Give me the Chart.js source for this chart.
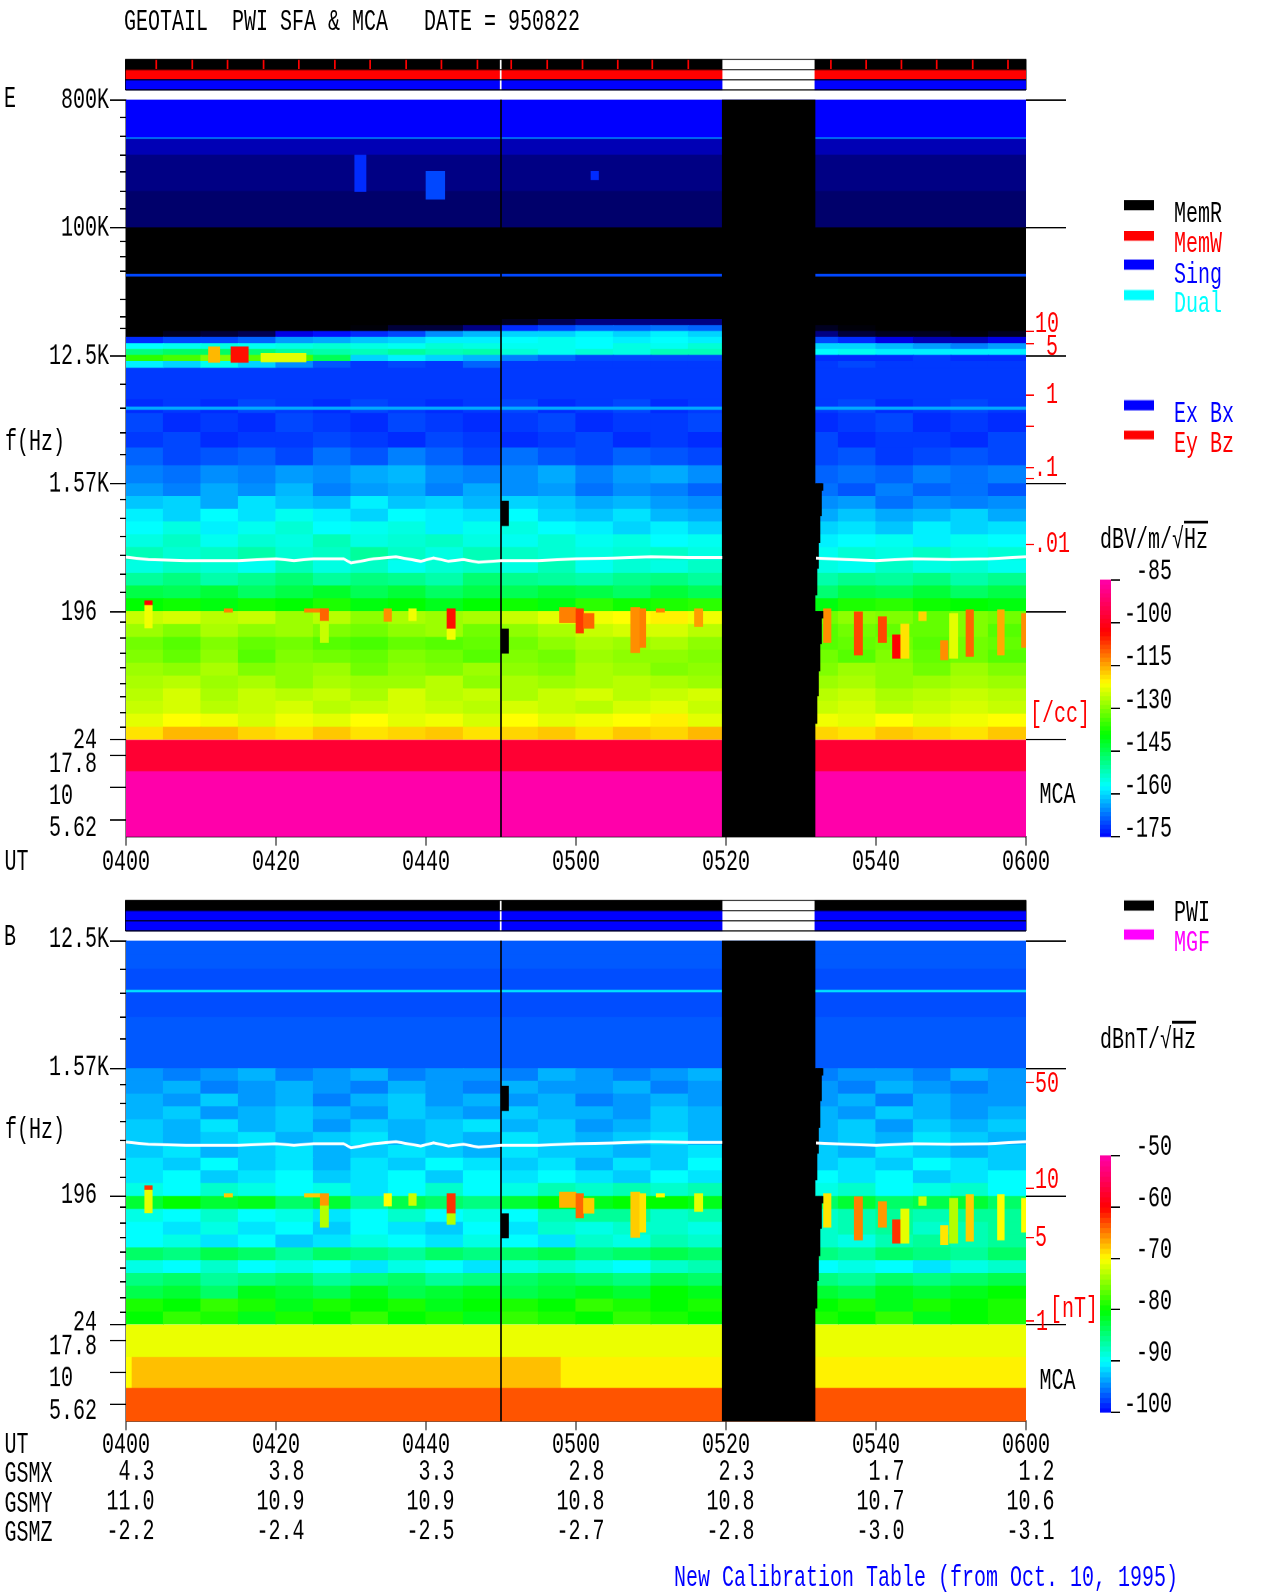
<!DOCTYPE html>
<html><head><meta charset="utf-8">
<script src="https://cdn.jsdelivr.net/npm/chart.js@4"></script>
<style>
html,body{margin:0;padding:0;background:#fff;overflow:hidden;width:1280px;height:1593px}
#stage{position:absolute;left:0;top:0;width:1280px;transform-origin:0 0;font:20px "Liberation Mono",monospace;color:#000}
#stage canvas{position:absolute;left:0}
.t{position:absolute;white-space:pre;line-height:1;transform:translateY(-50%)}
.s{position:absolute;width:30px}
.o{text-decoration:overline}
</style></head><body><div id="stage"></div>
<script>
// ---------- values (estimates, mean level of each cell) ----------
const N = null;
const utLabels = ["0400","0420","0440","0500","0520","0540","0600"];
const utMinutes = [0,20,40,60,80,100,120];
const gsmx = ["4.3","3.8","3.3","2.8","2.3","1.7","1.2"];
const gsmy = ["11.0","10.9","10.9","10.8","10.8","10.7","10.6"];
const gsmz = ["-2.2","-2.4","-2.5","-2.7","-2.8","-3.0","-3.1"];

const majorHzE = [803000,100400,12544,1568,196,24.5];
const majorLabelsE = ["800K","100K","12.5K","1.57K","196 ","24 "];
const majorHzB = [12544,1568,196,24.5];
const majorLabelsB = ["12.5K","1.57K","196 ","24 "];
const mcaHz = [17.8,10,5.62];
const mcaLabels = ["17.8 ","10   ","5.62 "];
const minorHzE = [600000,442000,326000,250000,181000,137000,80400,63000,49300,31300,23700,19500,7870,5330,3600,2530,1215,892,666,490,360,268,165,128,100,79,61,49,38,30];
const minorHzB = [7870,5330,3600,2530,1215,892,666,490,360,268,165,128,100,79,61,49,38,30];
const densityHz = [18600,15300,6600,3970,2040,1710,585];
const fieldHz = [1254,225,101,26];

const colTimes = [2.5,7.5,12.5,17.5,22.5,27.5,32.5,37.5,42.5,47.5,52.5,57.5,62.5,67.5,72.5,77.5,82.5,87.5,92.5,97.5,102.5,107.5,112.5,117.5];

// full-width rows, panel E
const eFullHz = [803000,600000,432000,423000,326000,181000,100400,47000,45000,10400,1568,23.7,13.3,4.14];
const eFullDb = [-175,-175,-163,-178,-180,-181,-190,-170,-190,-171,N,-97.6,-85];

// emission near 12.5 kHz, panel E
const eLineHz = [22600,20500,18600,16900,15300,13900,12600,11400,10400];
const eLineDb = [
[-190,-190,-190,-190,-190,-190,-190,-190,-190,-188,-184,-182,-180,-180,-180,-180,N,N,-186,-187,-188,-188,-188,-188],
[-190,-190,-190,-190,-190,-186,-185,-183,-183,-180,-172,-170,-168,-168,-167,-168,N,N,-184,-185,-186,-186,-186,-186],
[-186,-184,-183,-182,-176,-174,-172,-170,-165,-162,-160,-160,-158,-160,-158,-160,N,N,-180,-183,-184,-184,-185,-184],
[-172,-170,-170,-168,-164,-163,-161,-160,-158,-158,-157,-156,-157,-158,-157,-158,N,N,-170,-172,-176,-178,-178,-176],
[-157,-156,-155,-156,-155,-154,-155,-156,-154,-155,-156,-156,-157,-155,-156,-154,N,N,-160,-160,-162,-164,-166,-164],
[-148,-146,-146,-147,-150,-151,-152,-150,-152,-151,-154,-156,-154,-155,-152,-152,N,N,-157,-156,-158,-158,-158,-158],
[-136,-134,-130,-133,-134,-145,-160,-158,-160,-162,-166,-168,-170,-170,-170,-170,N,N,-172,-172,-172,-171,-172,-172],
[-158,-160,-156,-160,-165,-169,-171,-170,-171,-168,-171,-171,-171,-171,-171,-171,N,N,-171,-170,-171,-171,-171,-171]
];

// blue noise band above 1.57 kHz, panel E
const eMidHz = [6150,4900,3600,2800,2100,1568];
const eMidDb = [
[-172,-171,-172,-170,-171,-172,-170,-171,-172,-171,-170,-172,-171,-170,-172,-171,N,N,-171,-170,-172,-171,-170,-171],
[-170,-172,-171,-172,-170,-171,-172,-170,-171,-172,-171,-170,-172,-171,-171,-170,N,N,-172,-171,-170,-172,-171,-172],
[-171,-170,-172,-171,-171,-170,-171,-172,-170,-171,-172,-171,-170,-172,-171,-172,N,N,-170,-172,-171,-171,-172,-170],
[-168,-170,-169,-168,-170,-167,-169,-166,-168,-170,-167,-169,-170,-168,-169,-170,N,N,-170,-169,-171,-170,-169,-170],
[-166,-167,-165,-166,-164,-165,-163,-162,-165,-166,-165,-163,-166,-164,-163,-165,N,N,-168,-167,-168,-166,-167,-166]
];

// SFA rows from 1.57 kHz down to 24.5 Hz (both panels)
const lowHz = [1568,1275,1036,842,684,556,451,366,298,242,196,159,129,105,85,69,56,45.6,37,30,24.5];
const eLowDb = [
[-164,-166,-163,-165,-162,-166,-164,-163,-166,-163,-165,-164,-167,-165,-166,-168,N,N,-167,-169,-166,-168,-167,-169],
[-161,-160,-163,-159,-161,-162,-158,-161,-160,-162,-160,-161,-163,-162,-164,-165,N,N,-165,-164,-167,-165,-166,-165],
[-158,-160,-157,-159,-156,-158,-160,-157,-158,-159,-157,-160,-161,-159,-162,-163,N,N,-163,-161,-163,-162,-160,-163],
[-157,-155,-158,-156,-154,-157,-156,-155,-158,-156,-155,-157,-158,-160,-158,-160,N,N,-160,-159,-161,-158,-160,-159],
[-155,-153,-156,-154,-155,-152,-155,-154,-153,-155,-156,-154,-156,-155,-157,-156,N,N,-158,-157,-156,-158,-156,-157],
[-152,-154,-153,-151,-154,-153,-150,-153,-155,-152,-153,-154,-155,-154,-153,-155,N,N,-156,-154,-155,-153,-155,-154],
[-155,-153,-154,-156,-152,-155,-153,-156,-154,-153,-155,-152,-156,-154,-155,-153,N,N,-155,-156,-153,-155,-154,-156],
[-150,-148,-151,-149,-147,-150,-148,-149,-151,-147,-149,-150,-151,-149,-148,-150,N,N,-151,-149,-150,-148,-151,-149],
[-144,-145,-143,-146,-144,-142,-145,-143,-146,-144,-145,-143,-144,-146,-143,-145,N,N,-147,-144,-145,-143,-146,-144],
[-139,-138,-140,-138,-139,-137,-140,-139,-141,-139,-138,-140,-136,-138,-137,-136,N,N,-140,-137,-136,-138,-139,-140],
[-125,-124,-126,-125,-128,-126,-129,-127,-128,-127,-125,-123,-122,-121,-120,-122,N,N,-131,-129,-130,-132,-130,-131],
[-128,-130,-127,-129,-128,-130,-131,-129,-128,-131,-129,-127,-125,-124,-124,-126,N,N,-133,-131,-132,-132,-130,-133],
[-131,-133,-130,-132,-131,-133,-134,-132,-133,-132,-131,-129,-127,-128,-127,-129,N,N,-133,-132,-131,-133,-131,-132],
[-130,-132,-129,-133,-130,-131,-132,-130,-131,-133,-130,-131,-128,-129,-129,-130,N,N,-131,-133,-130,-132,-131,-133],
[-128,-129,-127,-130,-129,-128,-131,-129,-130,-128,-129,-130,-127,-128,-130,-129,N,N,-130,-128,-129,-131,-128,-130],
[-127,-126,-128,-127,-129,-127,-128,-128,-126,-129,-127,-128,-127,-126,-127,-128,N,N,-128,-127,-129,-128,-127,-128],
[-126,-124,-127,-125,-126,-125,-127,-124,-126,-125,-127,-125,-124,-126,-125,-124,N,N,-126,-125,-127,-126,-125,-126],
[-125,-124,-126,-125,-124,-126,-125,-124,-125,-126,-124,-125,-126,-124,-123,-125,N,N,-125,-124,-126,-125,-124,-125],
[-123,-121,-122,-124,-122,-123,-121,-123,-122,-124,-121,-123,-122,-121,-120,-123,N,N,-122,-123,-121,-123,-122,-121],
[-119,-116,-116,-118,-119,-117,-119,-118,-117,-119,-118,-117,-119,-117,-118,-116,N,N,-118,-119,-117,-118,-119,-117]
];

// panel B
const bFullHz = [12544,10000,7900,5600,5400,3600,1568,23.7,13.3,7.5,4.14];
const bFullDb = [-96.5,-96.5,-97,-91,-97,-96.5,N,-70.8,N,-63.3];
const bMcaStart = [0,0.8,58];
const bMcaEnd = [0.8,58,120];
const bMcaDb = [-70,-67.5,-69.5];
const bLowDb = [
[-94,-95,-94,-93,-95,-94,-93,-95,-94,-94,-95,-93,-94,-95,-94,-93,N,N,-95,-94,-94,-95,-93,-94],
[-94,-93,-95,-94,-93,-94,-95,-93,-94,-95,-93,-94,-94,-93,-95,-94,N,N,-94,-95,-93,-94,-95,-94],
[-93,-94,-92,-94,-93,-95,-93,-92,-94,-93,-94,-93,-95,-94,-93,-94,N,N,-94,-93,-95,-93,-94,-94],
[-93,-92,-94,-93,-92,-93,-94,-92,-93,-94,-92,-93,-93,-94,-92,-93,N,N,-93,-94,-92,-93,-94,-93],
[-92,-93,-91,-93,-92,-94,-92,-93,-92,-91,-93,-92,-94,-93,-92,-93,N,N,-93,-92,-94,-92,-93,-92],
[-92,-93,-92,-91,-93,-92,-91,-93,-92,-93,-91,-92,-93,-92,-91,-93,N,N,-93,-92,-93,-91,-92,-93],
[-92,-91,-93,-92,-91,-93,-92,-91,-92,-93,-91,-92,-92,-93,-92,-91,N,N,-92,-93,-91,-92,-93,-92],
[-91,-92,-90,-92,-91,-93,-91,-92,-90,-91,-92,-91,-93,-91,-92,-90,N,N,-92,-91,-92,-90,-91,-92],
[-91,-90,-92,-91,-90,-92,-91,-90,-92,-90,-91,-90,-91,-92,-90,-91,N,N,-90,-91,-90,-92,-91,-90],
[-89,-90,-88,-89,-90,-89,-91,-90,-88,-90,-89,-87,-88,-87,-88,-87,N,N,-89,-88,-90,-89,-88,-90],
[-82,-80,-82,-81,-84,-82,-86,-83,-84,-85,-82,-80,-81,-80,-80,-81,N,N,-84,-82,-84,-83,-82,-84],
[-89,-90,-88,-90,-89,-91,-90,-88,-90,-89,-90,-87,-86,-86,-88,-87,N,N,-88,-87,-86,-87,-86,-86],
[-90,-91,-89,-91,-90,-92,-90,-91,-92,-90,-91,-88,-89,-88,-88,-89,N,N,-88,-87,-86,-88,-87,-86],
[-90,-89,-91,-90,-92,-91,-89,-90,-91,-89,-90,-91,-88,-89,-87,-88,N,N,-88,-89,-87,-86,-87,-86],
[-84,-85,-83,-84,-86,-84,-85,-86,-84,-85,-84,-83,-85,-84,-83,-84,N,N,-85,-86,-84,-85,-86,-84],
[-89,-90,-88,-90,-89,-90,-91,-89,-90,-91,-89,-88,-89,-90,-88,-87,N,N,-90,-89,-90,-91,-89,-88],
[-85,-84,-86,-85,-84,-86,-85,-84,-86,-85,-84,-83,-84,-85,-83,-84,N,N,-85,-86,-84,-85,-84,-83],
[-83,-82,-84,-81,-82,-83,-81,-83,-82,-81,-83,-82,-81,-82,-80,-81,N,N,-82,-83,-81,-82,-81,-80],
[-79,-80,-78,-79,-81,-79,-80,-79,-81,-80,-79,-80,-78,-79,-80,-79,N,N,-80,-79,-81,-79,-80,-79],
[-80,-78,-79,-81,-79,-80,-78,-80,-79,-81,-78,-79,-80,-78,-79,-80,N,N,-79,-80,-78,-81,-80,-79]
];

// localised bursts and narrow lines (minutes after 0400, Hz range, level in each panel)
const burstStart = [2.5,2.5,13.1,23.8,25.9,25.9,34.4,37.7,42.8,42.8,57.8,60,61,67.3,68.5,70.7,75.8,93,97.1,100.3,102.2,103.3,105.7,108.6,109.8,112,116.2,119.4,11,14,18,30.5,40,62,0];
const burstEnd = [3.5,3.5,14.2,27,27,27,35.4,38.7,43.9,43.9,60,61,62.4,68.5,69.3,71.8,76.9,94,98.2,101.4,103.3,104.4,106.7,109.6,110.9,113,117.1,120,12.5,16.3,24,32,42.5,63,120];
const burstHiHz = [233,217,205,205,205,168,205,205,205,148,210,205,190,210,205,205,205,205,195,180,134,160,195,122,190,202,202,190,14500,14500,13000,326000,250000,250000,5450];
const burstLoHz = [217,151,195,195,168,119,168,170,148,125,165,139,150,101,110,195,154,119,97,119,92,92,170,90,92,95,97,110,11300,11300,11400,181000,160000,220000,5250];
const burstDbE = [-103,-122,-112,-112,-110,-125,-113,-122,-104,-122,-112,-107,-110,-113,-112,-112,-114,-113,-108,-108,-103,-119,-118,-113,-123,-110,-115,-113,-116,-104,-123,-172,-170,-172,-163];
const burstDbB = [-62,-71,-68,-68,-66,-73,-70,-72,-62,-73,-67,-64,-68,-68,-69,-70,-71,-69,-65,-66,-62,-71,-72,-69,-73,-68,-70,-70,N,N,N,N,N,N,N];

// electron plasma line
const plasmaMin = [0,3,8,15,20,22.4,25,29,30,33,36,39.3,41,43,45,47,50,55,60,65,70,75,79.5,85,92,96,100,105,110,115,120];
const plasmaHz = [475,458,450,450,463,450,463,463,433,463,478,445,470,445,458,438,450,450,463,468,478,473,473,N,468,458,450,463,458,463,478];

// data gap and small dropouts
const gapStart = [79.5], gapEnd = [91.87];
const gapFullHz = [4.14,803000];
const wedgeMin = [92.0,92.2,92.4,92.6,92.8];
const wedgeUpperHz = [257,397,603,932,1413];
const wedgeLowerHz = [32,50,75,117,177];
const dropStart = [50,50], dropEnd = [51,51], dropHi = [1177,148], dropLo = [796,100];
const markerMin = 50;

// status strips
const stripStart = [0,91.87], stripEnd = [79.5,120];
const memTicks = [4.1,8.9,13.6,18.4,23.1,27.9,32.6,37.4,42.1,46.9,51.4,56.2,60.9,65.6,70.2,75,94,98.7,103.4,108.1,112.9,117.6];
const stripColorsE = ["#000","#f00","#00f"];
const stripColorsB = ["#000","#00f","#00f"];

const cbTicksE = [-175,-160,-145,-130,-115,-100,-85];
const cbTicksB = [-100,-90,-80,-70,-60,-50];

// ---------- helpers ----------
const K = 1.45, L = v => v / K, PX = 7.5, FONT = '"Liberation Mono"', U_PX = 128;
const stage = document.getElementById('stage');
stage.style.height = L(1593) + 'px';
stage.style.transform = 'scale(1,' + K + ')';
const hzToU = f => f >= 24 ? Math.log(f / 24.5) / Math.log(8) : Math.log10(f / 23.7);
const STOPS = [[-0.115,[0,0,0]],[0,[0,0,255]],[.2,[0,255,255]],[.4,[0,255,0]],[.6,[255,255,0]],[.7,[255,128,0]],[.8,[255,0,0]],[1,[255,0,170]]];
function ramp(fr){
  if (fr <= STOPS[0][0]) return '#000';
  for (let i = 1; i < STOPS.length; i++) if (fr <= STOPS[i][0]) {
    const a = STOPS[i-1], b = STOPS[i], w = (fr-a[0])/(b[0]-a[0]);
    return 'rgb(' + a[1].map((c,j) => Math.round(c+(b[1][j]-c)*w)).join(',') + ')';
  }
  return 'rgb(255,0,170)';
}
const colE = v => ramp((v+175)/90), colB = v => ramp((v+100)/50);
let seq = 0;
function bars(points, colors, widthMin){
  return {type:'bar', stack:'s', order:100000-(seq++), data:points, backgroundColor:colors,
    barThickness:widthMin*PX+0.5, borderWidth:0, borderSkipped:false, xAxisID:'x', yAxisID:'y'};
}
function cell(t0,t1,lo,hi,color,exact){
  const d = bars([{x:(t0+t1)/2, y:[hzToU(lo),hzToU(hi)]}], color, t1-t0);
  if (exact) d.barThickness = (t1-t0)*PX;
  return d;
}
function fullRows(edges, dbs, col){
  const out = [];
  dbs.forEach((v,i)=>{ if (v!==N) out.push(cell(0,120,edges[i+1],edges[i],col(v))); });
  return out;
}
function tableRows(edges, table, col){
  return table.map((row,i)=>{
    const pts=[], cs=[];
    row.forEach((v,j)=>{ if(v!==N){ pts.push({x:colTimes[j],y:[hzToU(edges[i+1]),hzToU(edges[i])]}); cs.push(col(v)); }});
    return bars(pts,cs,5);
  });
}
function burstRows(dbs,col,maxHz){
  const out=[];
  dbs.forEach((v,i)=>{ if(v!==N && burstHiHz[i]<=maxHz) out.push(cell(burstStart[i],burstEnd[i],burstLoHz[i],burstHiHz[i],col(v),true)); });
  return out;
}
function blackMarks(topHz){
  const out=[cell(gapStart[0],gapEnd[0],gapFullHz[0],topHz,'#000',true)];
  wedgeMin.forEach((t,i)=>{
    out.push(cell(t-0.13,t+0.13,wedgeUpperHz[i],1568,'#000',true));
    out.push(cell(t-0.13,t+0.13,wedgeLowerHz[i],196,'#000',true));
  });
  dropStart.forEach((t,i)=>out.push(cell(t,dropEnd[i],dropLo[i],dropHi[i],'#000',true)));
  const m=bars([{x:markerMin,y:[hzToU(gapFullHz[0]),hzToU(topHz)]}],'#000',0); m.barThickness=1; out.push(m);
  return out;
}
function plasma(){
  return {type:'line',order:0,xAxisID:'x',yAxisID:'y',data:plasmaMin.map((t,i)=>({x:t,y:plasmaHz[i]===N?N:hzToU(plasmaHz[i])})),
    borderColor:'#fff',borderWidth:2,pointRadius:0,tension:0,spanGaps:false};
}
function canvasAt(realTop, realH){
  const c=document.createElement('canvas');
  c.width=1280; c.height=Math.round(L(realH));
  c.style.top=L(realTop)+'px';
  stage.appendChild(c);
  return c;
}
const fixW = w => a => { a.width = w; };
const fixH = h => a => { a.height = h; };
function tickAxis(position, min, max, vals, labels, len, color, extra){
  return Object.assign({
    type:'linear', position, min, max, offset:false, stacked:false,
    afterBuildTicks:a=>{a.ticks=vals.map(v=>({value:v}));},
    afterFit:fixW(0),
    grid:{offset:false,drawOnChartArea:false,drawTicks:true,tickLength:len,tickColor:color,tickWidth:1},
    border:{display:false},
    ticks:labels?{autoSkip:false,color:'#000',padding:1,font:{family:FONT,size:20,lineHeight:1},callback:(v,i)=>labels[i]}:{display:false}
  }, extra||{});
}
function panel(o){
  const top=o.top, bottom=o.bottom, uMin=hzToU(4.14), uMax=hzToU(o.maxHz);
  const xH=o.xReal/K;
  const canvas=canvasAt(top-20,(bottom-top)+20+o.xReal+(o.tableH||0));
  const nMajor=o.majorHz.length;
  // MCA captions share the label axis; they sit a few pixels under their own tick marks
  const labelVals=o.majorHz.map(hzToU).concat(mcaHz.map(f=>hzToU(f)-o.mcaShift/U_PX));
  const labelText=o.majorLabels.concat(mcaLabels);
  const scales={
    x:{type:'linear',min:0,max:120,offset:false,stacked:true,afterFit:fixH(xH),
       afterBuildTicks:a=>{a.ticks=utMinutes.map(v=>({value:v}));},
       grid:{offset:false,drawOnChartArea:false,tickLength:L(9),tickColor:'#000',tickWidth:1},
       border:{display:true,color:'#000',width:1},
       ticks:{autoSkip:false,maxRotation:0,minRotation:0,color:'#000',padding:o.xPad,labelOffset:0,font:{family:FONT,size:20,lineHeight:1},callback:(v,i)=>utLabels[i]}},
    y:tickAxis('left',uMin,uMax,labelVals,labelText,16,c=>c.index<nMajor?'#000':'rgba(0,0,0,0)',{weight:10,afterFit:fixW(126),border:{display:true,color:'#000',width:1}}),
    yMinor:tickAxis('left',uMin,uMax,o.minorHz.map(hzToU),null,6,'#000'),
    yMca:tickAxis('left',uMin,uMax,mcaHz.map(hzToU),null,16,'#000'),
    yRight:tickAxis('right',uMin,uMax,o.majorHz.map(hzToU),null,40,'#000'),
    yRed:tickAxis('right',uMin,uMax,o.redHz.map(hzToU),null,8,'#f00')
  };
  scales.y.ticks.labelOffset=L(o.yLabelDy);
  if(o.table){
    scales.x2={type:'linear',min:0,max:120,offset:false,position:'bottom',afterFit:fixH(o.tableH/K),
      afterBuildTicks:a=>{a.ticks=utMinutes.map(v=>({value:v}));},
      grid:{offset:false,display:false,drawTicks:false},border:{display:false},
      ticks:{autoSkip:false,maxRotation:0,minRotation:0,color:'#000',padding:0,labelOffset:4.5,
        font:{family:FONT,size:20,lineHeight:1.025},callback:(v,i)=>o.table[i]}};
  }
  new Chart(canvas,{type:'bar',data:{datasets:o.datasets},options:{
    responsive:false,animation:false,devicePixelRatio:2,events:[],
    layout:{padding:{left:0,right:254,top:L(20),bottom:0}},
    plugins:{legend:{display:false},tooltip:{enabled:false}},
    scales}});
}
function strip(top,bottom,colors,withTicks){
  const canvas=canvasAt(top-4,bottom-top+8);
  const ds=[];
  const rowH=L((bottom-top)/3)+0.4;
  colors.forEach((c,r)=>{
    stripStart.forEach((s,i)=>{
      ds.push({type:'bar',stack:'s',order:100000-(seq++),barThickness:rowH,borderWidth:0,borderSkipped:false,
        backgroundColor:c,data:[{y:2.5-r,x:[s,stripEnd[i]]}]});
    });
  });
  if(withTicks) ds.push({type:'bar',stack:'s',order:10,barThickness:rowH,borderWidth:0,borderSkipped:false,backgroundColor:'#f00',
      data:memTicks.map(t=>({y:2.5,x:[t-0.07,t+0.07]}))});
  ds.push({type:'bar',stack:'s',order:5,barThickness:L(bottom-top),borderWidth:0,borderSkipped:false,backgroundColor:'#fff',
      data:[{y:1.5,x:[markerMin-0.07,markerMin+0.07]}]});
  new Chart(canvas,{type:'bar',data:{datasets:ds},options:{
    indexAxis:'y',responsive:false,animation:false,devicePixelRatio:2,events:[],
    layout:{padding:{left:125.5,right:254,top:L(4),bottom:L(4)}},
    plugins:{legend:{display:false},tooltip:{enabled:false}},
    scales:{
      x:{type:'linear',min:0,max:120,stacked:false,offset:false,afterFit:fixH(0),
         afterBuildTicks:a=>{a.ticks=[{value:0},{value:120}];},
         grid:{offset:false,color:'#000',lineWidth:1,drawTicks:false},border:{display:false},ticks:{display:false}},
      y:{type:'linear',min:0,max:3,stacked:true,offset:false,afterFit:fixW(0),
         afterBuildTicks:a=>{a.ticks=[0,1,2,3].map(v=>({value:v}));},
         grid:{offset:false,color:'#000',lineWidth:0.7,drawTicks:false,z:1},border:{display:false},ticks:{display:false}}
    }}});
}
function colorbar(top,bottom,minDb,maxDb,col,tickVals,step){
  const canvas=canvasAt(top-20,bottom-top+40);
  const pts=[],cs=[];
  for(let v=minDb+step/2;v<maxDb;v+=step){pts.push({y:v,x:[0,1]});cs.push(col(v));}
  const th=L((bottom-top)*step/(maxDb-minDb))+0.4;
  new Chart(canvas,{type:'bar',data:{datasets:[{type:'bar',stack:'s',data:pts,backgroundColor:cs,barThickness:th,borderWidth:0,borderSkipped:false}]},options:{
    indexAxis:'y',responsive:false,animation:false,devicePixelRatio:2,events:[],
    layout:{padding:{left:1100,right:1280-1172,top:L(20),bottom:L(20)}},
    plugins:{legend:{display:false},tooltip:{enabled:false}},
    scales:{
      x:{type:'linear',min:0,max:1,stacked:false,offset:false,display:false},
      y:{type:'linear',position:'right',min:minDb,max:maxDb,stacked:true,offset:false,afterFit:fixW(61),
         afterBuildTicks:a=>{a.ticks=tickVals.map(v=>({value:v}));},
         grid:{offset:false,drawOnChartArea:false,tickLength:9,tickColor:'#000',tickWidth:1},
         border:{display:false},
         ticks:{autoSkip:false,crossAlign:'far',color:'#000',padding:3,labelOffset:L(-8),font:{family:FONT,size:20,lineHeight:1},callback:v=>String(v)}}
    }}});
}

// ---------- charts ----------
strip(59.5,90,stripColorsE,true);
panel({top:100.3,bottom:837.3,maxHz:803000,xReal:58,xPad:1.5,yLabelDy:0.5,mcaShift:8,majorHz:majorHzE,majorLabels:majorLabelsE,minorHz:minorHzE,redHz:densityHz,
  datasets:[].concat(
    fullRows(eFullHz,eFullDb,colE),
    tableRows(eMidHz,eMidDb,colE),
    tableRows(eLineHz,eLineDb,colE),
    tableRows(lowHz,eLowDb,colE),
    burstRows(burstDbE,colE,803000),
    blackMarks(803000),
    [plasma()])});
strip(899.5,930,stripColorsB,false);
const bMca=bMcaDb.map((v,i)=>cell(bMcaStart[i],bMcaEnd[i],7.5,13.3,colB(v),true));
panel({top:940.7,bottom:1421.7,maxHz:12544,xReal:36,xPad:0.2,yLabelDy:-1.5,mcaShift:8,tableH:100,table:utMinutes.map((_,i)=>[gsmx[i].padStart(4),gsmy[i],gsmz[i]]),
  majorHz:majorHzB,majorLabels:majorLabelsB,minorHz:minorHzB,redHz:fieldHz,
  datasets:[].concat(
    fullRows(bFullHz,bFullDb,colB),
    bMca,
    tableRows(lowHz,bLowDb,colB),
    burstRows(burstDbB,colB,12544),
    blackMarks(12544),
    [plasma()])});
colorbar(580,837.3,-175,-85,colE,cbTicksE,1.5);
colorbar(1155.5,1413,-100,-50,colB,cbTicksB,1);

// ---------- free text and legend keys ----------
const texts = [
 ["GEOTAIL  PWI SFA & MCA   DATE = 950822",124,20,"#000"],
 ["E",4,98,"#000"],["f(Hz)",5,440,"#000"],["UT",4.5,860,"#000"],
 ["MemR",1174,212,"#000"],["MemW",1174,242,"#f00"],["Sing",1174,273,"#00f"],["Dual",1174,302,"#0ff"],
 ["Ex Bx",1174,412,"#00f"],["Ey Bz",1174,442,"#f00"],
 ["10",1035,322,"#f00"],["5",1046,345,"#f00"],["1",1046,394,"#f00"],[".1",1034,466,"#f00"],[".01",1034,543,"#f00"],
 ["[/cc]",1030,713,"#f00"],["MCA",1039.5,793,"#000"],
 ["PWI",1174,911,"#000"],["MGF",1174,941,"#f0f"],
 ["B",4,936,"#000"],["f(Hz)",5,1128,"#000"],
 ["50",1035,1082,"#f00"],["10",1035,1178,"#f00"],["5",1035,1236,"#f00"],["1",1036,1320,"#f00"],
 ["[nT]",1050,1307,"#f00"],["MCA",1039.5,1380,"#000"],
 ["UT",4.5,1443,"#000"],["GSMX",4.5,1472,"#000"],["GSMY",4.5,1502,"#000"],["GSMZ",4.5,1531,"#000"],
 ["New Calibration Table (from Oct. 10, 1995)",674,1576,"#00f"]
];
const TEXT_DY = 2.5;
function addText(html,x,y,color){
  const d=document.createElement('div'); d.className='t';
  d.innerHTML=html; d.style.left=x+'px'; d.style.top=L(y+TEXT_DY)+'px'; d.style.color=color; stage.appendChild(d);
}
texts.forEach(t=>addText(t[0].replace(/&/g,'&amp;'),t[1],t[2],t[3]));
addText('dBV/m/√<span class="o">Hz</span>',1100,538,'#000');
addText('dBnT/√<span class="o">Hz</span>',1100,1038,'#000');
const swatches=[[200,"#000"],[230,"#f00"],[260,"#00f"],[290,"#0ff"],[400,"#00f"],[430,"#f00"],[900,"#000"],[930,"#f0f"]];
swatches.forEach(s=>{
  const d=document.createElement('div'); d.className='s';
  d.style.left='1124px'; d.style.top=L(s[0])+'px'; d.style.height=L(10)+'px'; d.style.background=s[1]; stage.appendChild(d);
});
</script></body></html>
